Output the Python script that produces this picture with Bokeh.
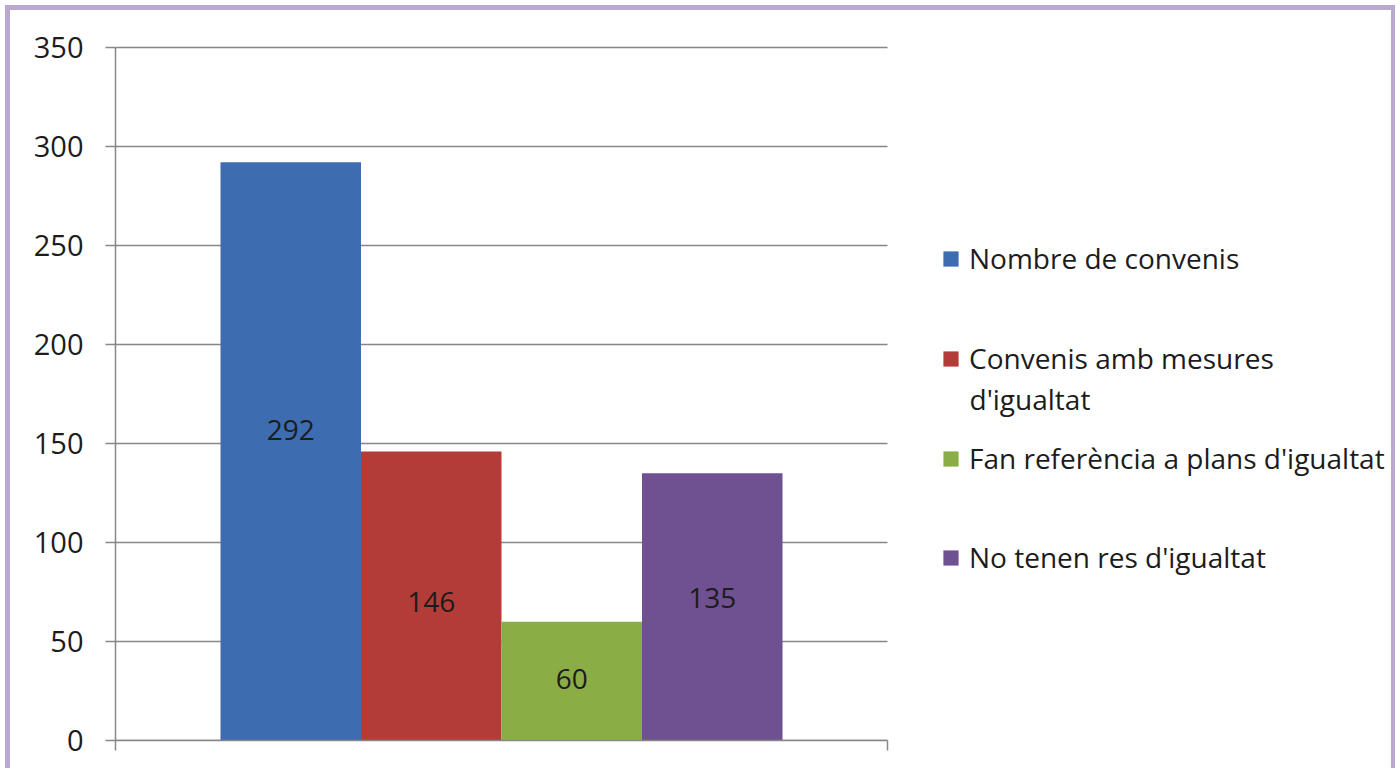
from bokeh.plotting import figure
from bokeh.models import (ColumnDataSource, Range1d, FixedTicker, Legend, LegendItem, Label)
from bokeh.transform import dodge
from bokeh.core.properties import value
from bokeh.embed import file_html
from bokeh.resources import INLINE

# ---- data ----
categories = ["convenis"]
series = ["Nombre de convenis",
          "Convenis amb mesures\nd'igualtat",
          "Fan referència a plans d'igualtat",
          "No tenen res d'igualtat"]
values = [292, 146, 60, 135]
label_y = [157, 70, 31, 72]          # vertical position of the value labels
colors = ["#3d6cb0", "#b43c38", "#8bad45", "#6f5192"]
y_ticks = [0, 50, 100, 150, 200, 250, 300, 350]

FONT = "Open Sans"
GRID = "#878787"
TXT = "#1c1c1c"
LAV = "#b9a8d0"

W, H = 1395, 768
LEFT, TOP = 115, 45
BAND_PX = 772          # pixel width of the category band
FRAME_W = W - LEFT
FRAME_H = 695

ncat = len(categories)
cat_idx = list(range(ncat))
x_end = -0.5 + ncat * FRAME_W / BAND_PX

p = figure(width=W, height=H,
           x_range=Range1d(-0.5, x_end),
           y_range=Range1d(0, 351),
           output_backend="svg", toolbar_location=None,
           min_border_left=LEFT, min_border_right=0,
           min_border_top=TOP, min_border_bottom=H - TOP - FRAME_H)
p.outline_line_color = None
p.border_fill_color = None
p.background_fill_color = None
p.xgrid.grid_line_color = None
p.ygrid.grid_line_color = None

# horizontal gridlines over the category band only
p.segment(x0=[-0.5] * len(y_ticks), x1=[ncat - 0.5] * len(y_ticks), y0=y_ticks, y1=y_ticks,
          line_color=GRID, line_width=1.5)

ya = p.yaxis[0]
ya.ticker = FixedTicker(ticks=y_ticks)
ya.bounds = (y_ticks[0], y_ticks[-1])
ya.axis_line_color = GRID
ya.axis_line_width = 1.5
ya.major_tick_line_color = GRID
ya.major_tick_line_width = 1.5
ya.major_tick_out = 10
ya.major_tick_in = 0
ya.minor_tick_line_color = None
ya.major_label_text_font = FONT
ya.major_label_text_font_size = "29px"
ya.major_label_text_color = TXT
ya.major_label_standoff = 22

# bottom axis: ticks at the boundaries of the category band
xa = p.xaxis[0]
xa.ticker = FixedTicker(ticks=[c - 0.5 for c in range(ncat + 1)])
xa.bounds = (-0.5, ncat - 0.5)
xa.axis_line_color = GRID
xa.axis_line_width = 1.5
xa.major_tick_line_color = GRID
xa.major_tick_line_width = 1.5
xa.major_tick_out = 10
xa.major_tick_in = 0
xa.minor_tick_line_color = None
xa.major_label_text_color = None
xa.major_label_text_font_size = "1px"
xa.major_label_standoff = 0

bar_w = 0.182
n = len(series)
renderers = []
for i, (s, v, ly, c) in enumerate(zip(series, values, label_y, colors)):
    off = (i - (n - 1) / 2) * bar_w
    src = ColumnDataSource(dict(cat=cat_idx, val=[v], ly=[ly], txt=[str(v)]))
    r = p.vbar(x=dodge("cat", off), top="val", width=bar_w, source=src,
               fill_color=c, line_color=None)
    p.text(x=dodge("cat", off), y="ly", text="txt", source=src,
           text_align="center", text_baseline="middle", text_font=value(FONT),
           text_font_size="28px", text_color=TXT)
    renderers.append(r)

# legend: one block per entry, placed like the original (offsets in px from frame bottom-left)
LEG_X = 826
GLYPH = 19
STANDOFF = 9
LINE_PX = 40
legend_bottoms = [462, 362, 262, 163]
for s, r, yb in zip(series, renderers, legend_bottoms):
    lines = s.split("\n")
    lg = Legend(items=[LegendItem(label=lines[0], renderers=[r])], location=(LEG_X, yb))
    lg.padding = 0
    lg.margin = 0
    lg.spacing = 0
    lg.border_line_color = None
    lg.background_fill_alpha = 0
    lg.glyph_width = GLYPH
    lg.glyph_height = GLYPH
    lg.label_height = LINE_PX
    lg.label_standoff = STANDOFF
    lg.label_text_font = FONT
    lg.label_text_font_size = "28px"
    lg.label_text_color = TXT
    p.add_layout(lg, "center")
    for k, extra in enumerate(lines[1:], start=1):
        p.add_layout(Label(x=LEG_X + GLYPH + STANDOFF, y=yb - LINE_PX * k + LINE_PX / 2,
                           x_units="screen", y_units="screen", text=extra,
                           text_font=FONT, text_font_size="28px", text_color=TXT,
                           text_baseline="middle", text_align="left"))

p.styles = {"box-shadow": f"inset 5px 5px 0 0 #ffffff, inset 10px 10px 0 0 {LAV}, inset -4px 0 0 0 {LAV}"}

open("out.html", "w").write(file_html(p, INLINE))
